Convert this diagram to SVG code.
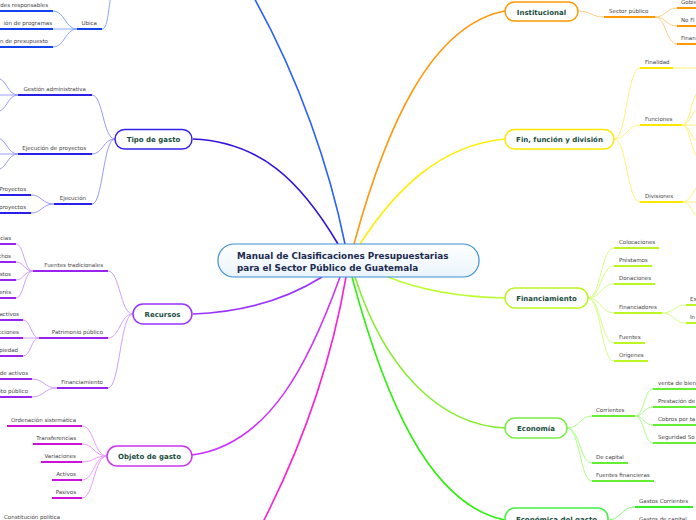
<svg xmlns="http://www.w3.org/2000/svg" width="696" height="520" viewBox="0 0 696 520">
<defs>
<linearGradient id="cg" x1="0" y1="0" x2="0" y2="1"><stop offset="0" stop-color="#ffffff"/><stop offset="1" stop-color="#eaf4fd"/></linearGradient>
<style>
.s{font-family:"DejaVu Sans",Verdana,sans-serif;font-size:5.5px;fill:#444}
.e{text-anchor:end}
.m{font-family:"DejaVu Sans",Verdana,sans-serif;font-size:7px;font-weight:bold;fill:#1a4d3e;text-anchor:middle}
.c{font-family:"DejaVu Sans",Verdana,sans-serif;font-size:8.8px;font-weight:bold;fill:#1b2a4e}
.n{fill:#fff;stroke-width:1.5}
.mc{fill:none;stroke-width:1.6}
.sc{fill:none;stroke-width:1}
.u{stroke-width:2}
.bl .sc{stroke:#88a8ff}.bl .u{stroke:#1144ee}
.ind .sc{stroke:#9a9aff}.ind .u{stroke:#2a1fe8}
.pur .sc{stroke:#cda0ff}.pur .u{stroke:#9922ee}
.mag .sc{stroke:#ec9cff}.mag .u{stroke:#cc11dd}
.org .sc{stroke:#ffcf8a}.org .u{stroke:#ff9900}
.yel .sc{stroke:#fff27a}.yel .u{stroke:#ffe600}
.lim .sc{stroke:#d6ff8a}.lim .u{stroke:#bbf522}
.grn .sc{stroke:#aaff88}.grn .u{stroke:#66ee33}
.gr2 .sc{stroke:#88ff77}.gr2 .u{stroke:#33ee22}
</style>
</defs>
<rect width="696" height="520" fill="#fff"/>

<g id="connectors">
<path class="mc" stroke="#2a5fff" d="M345,244 C330,170 300,80 253,-4"/>
<path class="mc" stroke="#3311dd" d="M338,244 C300,180 260,142 193,139"/>
<path class="mc" stroke="#ff9911" d="M354,244 C385,130 430,25 505,11"/>
<path class="mc" stroke="#ffee11" d="M360,244 C395,190 440,145 505,139"/>
<path class="mc" stroke="#bbff33" d="M388,277 C420,290 460,297 505,298"/>
<path class="mc" stroke="#9933ff" d="M322,277 C290,297 250,312 193,314"/>
<path class="mc" stroke="#cc33ff" d="M340,277 C310,360 270,445 192,455"/>
<path class="mc" stroke="#ff22cc" d="M346,277 C330,370 300,450 262,524"/>
<path class="mc" stroke="#88ee33" d="M355,277 C385,370 440,425 505,428"/>
<path class="mc" stroke="#33ee11" d="M352,277 C385,400 430,505 505,520"/>

<g class="org">
<path class="sc" d="M578,11 C591,11 591,17 604,17"/>
<path class="sc" d="M655,17 C666,17 666,8 677,8 M655,17 C666,17 666,26 677,26 M655,17 C666,17 666,44 677,44"/>
</g>
<g class="yel">
<path class="sc" d="M614,139 C627,139 627,68 640,68 M614,139 C627,139 627,125 640,125 M614,139 C627,139 627,202 640,202"/>
<path class="sc" d="M673,68 L700,68"/>
<path class="sc" d="M682,125 C691,125 691,90 702,90 M682,125 C691,125 691,108 702,108 M682,125 L702,125 M682,125 C691,125 691,143 702,143 M682,125 C691,125 691,160 702,160"/>
<path class="sc" d="M683,202 C692,202 692,186 702,186 M683,202 L702,202 M683,202 C692,202 692,218 702,218"/>
</g>
<g class="lim">
<path class="sc" d="M588,298 C601,298 601,248 614,248 M588,298 C601,298 601,266 614,266 M588,298 C601,298 601,284 614,284 M588,298 C601,298 601,313 614,313 M588,298 C601,298 601,343 614,343 M588,298 C601,298 601,361 614,361"/>
<path class="sc" d="M662,313 C674,313 674,305 686,305 M662,313 C674,313 674,323 686,323"/>
</g>
<g class="grn">
<path class="sc" d="M567,428 C580,428 580,416 592,416 M567,428 C580,428 580,463 592,463 M567,428 C580,428 580,481 592,481"/>
<path class="sc" d="M635,416 C644,416 644,389 653,389 M635,416 C644,416 644,407 653,407 M635,416 C644,416 644,425 653,425 M635,416 C644,416 644,443 653,443"/>
</g>
<g class="gr2">
<path class="sc" d="M608,520 C621,520 621,507 635,507 M608,520 C621,520 621,525 635,525"/>
</g>
<g class="bl">
<path class="sc" d="M102,29 C108,29 108,10 111,-4"/>
<path class="sc" d="M77,29 C65,29 65,11 53,11 M77,29 L53,29 M77,29 C65,29 65,47 53,47"/>
</g>
<g class="ind">
<path class="sc" d="M115,139 C103,139 103,95 92,95 M115,139 C103,139 103,154 92,154 M115,139 C103,139 103,204 92,204"/>
<path class="sc" d="M18,95 C7,95 7,78 -4,78 M18,95 L-4,95 M18,95 C7,95 7,112 -4,112"/>
<path class="sc" d="M18,154 C7,154 7,138 -4,138 M18,154 L-4,154 M18,154 C7,154 7,170 -4,170"/>
<path class="sc" d="M54,204 C42,204 42,195 31,195 M54,204 C42,204 42,213 31,213"/>
</g>
<g class="pur">
<path class="sc" d="M133,314 C120,314 120,271 108,271 M133,314 C120,314 120,338 108,338 M133,314 C120,314 120,388 108,388"/>
<path class="sc" d="M33,271 C24,271 24,244 16,244 M33,271 C24,271 24,262 16,262 M33,271 C24,271 24,280 16,280 M33,271 C24,271 24,298 16,298"/>
<path class="sc" d="M39,338 C31,338 31,320 23,320 M39,338 L23,338 M39,338 C31,338 31,356 23,356"/>
<path class="sc" d="M57,388 C44,388 44,379 32,379 M57,388 C44,388 44,397 32,397"/>
</g>
<g class="mag">
<path class="sc" d="M107,456 C94,456 94,426 82,426 M107,456 C94,456 94,444 82,444 M107,456 C94,456 94,462 82,462 M107,456 C94,456 94,480 82,480 M107,456 C94,456 94,498 82,498"/>
</g>
</g>

<g id="center">
<rect x="218" y="244" width="261" height="33" rx="16" fill="url(#cg)" stroke="#3d8fd4" stroke-width="1.2"/>
<text class="c" x="237" y="259">Manual de Clasificaciones Presupuestarias</text>
<text class="c" x="237" y="270.5">para el Sector Público de Guatemala</text>
</g>

<g id="institucional" class="org">
<rect class="n" x="505" y="2" width="73" height="19" rx="9.5" stroke="#ff9900"/>
<text class="m" x="541.5" y="14.5">Institucional</text>
</g>
<g id="sector-publico" class="org"><line class="u" x1="604" y1="17" x2="655" y2="17"/><text class="s" x="609" y="13">Sector público</text></g>
<g id="gobierno" class="org"><line class="u" x1="677" y1="8" x2="700" y2="8"/><text class="s" x="681" y="4">Gobie</text></g>
<g id="no-financiero" class="org"><line class="u" x1="677" y1="26" x2="700" y2="26"/><text class="s" x="681" y="22">No Fi</text></g>
<g id="financiero" class="org"><line class="u" x1="677" y1="44" x2="700" y2="44"/><text class="s" x="681" y="40">Finan</text></g>

<g id="fin" class="yel">
<rect class="n" x="505" y="129.5" width="109" height="19.5" rx="9.7" stroke="#ffe600"/>
<text class="m" x="559.5" y="141.8">Fin, función y división</text>
</g>
<g id="finalidad" class="yel"><line class="u" x1="640" y1="68" x2="673" y2="68"/><text class="s" x="645" y="64">Finalidad</text></g>
<g id="funciones" class="yel"><line class="u" x1="640" y1="125" x2="682" y2="125"/><text class="s" x="645" y="121">Funciones</text></g>
<g id="divisiones" class="yel"><line class="u" x1="640" y1="202" x2="683" y2="202"/><text class="s" x="645" y="198">Divisiones</text></g>

<g id="financiamiento" class="lim">
<rect class="n" x="505" y="288" width="83" height="20" rx="10" stroke="#bbf522"/>
<text class="m" x="546.5" y="300.5">Financiamiento</text>
</g>
<g id="colocaciones" class="lim"><line class="u" x1="614" y1="248" x2="659" y2="248"/><text class="s" x="619" y="244">Colocaciones</text></g>
<g id="prestamos" class="lim"><line class="u" x1="614" y1="266" x2="652" y2="266"/><text class="s" x="619" y="262">Préstamos</text></g>
<g id="donaciones" class="lim"><line class="u" x1="614" y1="284" x2="655" y2="284"/><text class="s" x="619" y="280">Donaciones</text></g>
<g id="financiadores" class="lim"><line class="u" x1="614" y1="313" x2="662" y2="313"/><text class="s" x="619" y="309">Financiadores</text></g>
<g id="ex" class="lim"><line class="u" x1="686" y1="305" x2="700" y2="305"/><text class="s" x="690" y="301">Ex</text></g>
<g id="in" class="lim"><line class="u" x1="686" y1="323" x2="700" y2="323"/><text class="s" x="690" y="319">In</text></g>
<g id="fuentes" class="lim"><line class="u" x1="614" y1="343" x2="645" y2="343"/><text class="s" x="619" y="339">Fuentes</text></g>
<g id="origenes" class="lim"><line class="u" x1="614" y1="361" x2="648" y2="361"/><text class="s" x="619" y="357">Orígenes</text></g>

<g id="economia" class="grn">
<rect class="n" x="505" y="418" width="62" height="20" rx="10" stroke="#77ee44"/>
<text class="m" x="536" y="430.5">Economía</text>
</g>
<g id="corrientes" class="grn"><line class="u" x1="592" y1="416" x2="635" y2="416"/><text class="s" x="596" y="412">Corrientes</text></g>
<g id="venta" class="grn"><line class="u" x1="653" y1="389" x2="700" y2="389"/><text class="s" x="658" y="385">venta de bien</text></g>
<g id="prestacion" class="grn"><line class="u" x1="653" y1="407" x2="700" y2="407"/><text class="s" x="658" y="403">Prestación de</text></g>
<g id="cobros" class="grn"><line class="u" x1="653" y1="425" x2="700" y2="425"/><text class="s" x="658" y="421">Cobros por ta</text></g>
<g id="seguridad" class="grn"><line class="u" x1="653" y1="443" x2="700" y2="443"/><text class="s" x="658" y="439">Seguridad So</text></g>
<g id="de-capital" class="grn"><line class="u" x1="592" y1="463" x2="628" y2="463"/><text class="s" x="596" y="459">De capital</text></g>
<g id="fuentes-financieras" class="grn"><line class="u" x1="592" y1="481" x2="654" y2="481"/><text class="s" x="596" y="477">Fuentes financieras</text></g>

<g id="economica-gasto" class="gr2">
<rect class="n" x="505" y="508" width="103" height="20" rx="10" stroke="#44ee44"/>
<text class="m" x="556.5" y="521.5">Económica del gasto</text>
</g>
<g id="gastos-corrientes" class="gr2"><line class="u" x1="635" y1="507" x2="693" y2="507"/><text class="s" x="639" y="503">Gastos Corrientes</text></g>
<g id="gastos-capital" class="gr2"><line class="u" x1="635" y1="525" x2="690" y2="525"/><text class="s" x="639" y="521">Gastos de capital</text></g>

<g id="ubica" class="bl"><line class="u" x1="77" y1="29" x2="102" y2="29"/><text class="s e" x="97" y="25">Ubica</text></g>
<g id="responsables" class="bl"><line class="u" x1="-2" y1="11" x2="53" y2="11"/><text class="s e" x="48" y="7">des responsables</text></g>
<g id="programas" class="bl"><line class="u" x1="-2" y1="29" x2="53" y2="29"/><text class="s e" x="52" y="25">ión de programas</text></g>
<g id="presupuesto" class="bl"><line class="u" x1="-2" y1="47" x2="53" y2="47"/><text class="s e" x="48" y="43">n de presupuesto</text></g>

<g id="tipo-gasto" class="ind">
<rect class="n" x="115" y="129.5" width="77" height="19.5" rx="9.7" stroke="#3322ee"/>
<text class="m" x="153.5" y="141.8">Tipo de gasto</text>
</g>
<g id="gestion" class="ind"><line class="u" x1="18" y1="95" x2="92" y2="95"/><text class="s e" x="86" y="91">Gestión administrativa</text></g>
<g id="ejec-proyectos" class="ind"><line class="u" x1="18" y1="154" x2="92" y2="154"/><text class="s e" x="86" y="150">Ejecución de proyectos</text></g>
<g id="ejecucion" class="ind"><line class="u" x1="54" y1="204" x2="92" y2="204"/><text class="s e" x="86" y="200">Ejecución</text></g>
<g id="proyectos1" class="ind"><line class="u" x1="-2" y1="195" x2="31" y2="195"/><text class="s e" x="26" y="191">Proyectos</text></g>
<g id="proyectos2" class="ind"><line class="u" x1="-2" y1="213" x2="31" y2="213"/><text class="s e" x="26" y="209">proyectos</text></g>

<g id="recursos" class="pur">
<rect class="n" x="133" y="304" width="59" height="20" rx="10" stroke="#9933ff"/>
<text class="m" x="162.5" y="316.5">Recursos</text>
</g>
<g id="fuentes-trad" class="pur"><line class="u" x1="33" y1="271" x2="108" y2="271"/><text class="s e" x="103" y="267">Fuentes tradicionales</text></g>
<g id="r1" class="pur"><line class="u" x1="-2" y1="244" x2="16" y2="244"/><text class="s e" x="11" y="240">cias</text></g>
<g id="r2" class="pur"><line class="u" x1="-2" y1="262" x2="16" y2="262"/><text class="s e" x="11" y="258">chos</text></g>
<g id="r3" class="pur"><line class="u" x1="-2" y1="280" x2="16" y2="280"/><text class="s e" x="11" y="276">stos</text></g>
<g id="r4" class="pur"><line class="u" x1="-2" y1="298" x2="16" y2="298"/><text class="s e" x="11" y="294">erés</text></g>
<g id="patrimonio" class="pur"><line class="u" x1="39" y1="338" x2="108" y2="338"/><text class="s e" x="103" y="334">Patrimonio público</text></g>
<g id="p1" class="pur"><line class="u" x1="-2" y1="320" x2="23" y2="320"/><text class="s e" x="19" y="316">activos</text></g>
<g id="p2" class="pur"><line class="u" x1="-2" y1="338" x2="23" y2="338"/><text class="s e" x="19" y="334">cciones</text></g>
<g id="p3" class="pur"><line class="u" x1="-2" y1="356" x2="23" y2="356"/><text class="s e" x="18" y="352">piedad</text></g>
<g id="financiamiento-r" class="pur"><line class="u" x1="57" y1="388" x2="108" y2="388"/><text class="s e" x="103" y="384">Financiamiento</text></g>
<g id="f1" class="pur"><line class="u" x1="-2" y1="379" x2="32" y2="379"/><text class="s e" x="28" y="375">de activos</text></g>
<g id="f2" class="pur"><line class="u" x1="-2" y1="397" x2="32" y2="397"/><text class="s e" x="28" y="393">ito público</text></g>

<g id="objeto-gasto" class="mag">
<rect class="n" x="107" y="446" width="85" height="20" rx="10" stroke="#cc33ee"/>
<text class="m" x="149.5" y="458.5">Objeto de gasto</text>
</g>
<g id="ordenacion" class="mag"><line class="u" x1="7" y1="426" x2="82" y2="426"/><text class="s e" x="76" y="422">Ordenación sistemática</text></g>
<g id="transferencias" class="mag"><line class="u" x1="33" y1="444" x2="82" y2="444"/><text class="s e" x="76" y="440">Transferencias</text></g>
<g id="variaciones" class="mag"><line class="u" x1="41" y1="462" x2="82" y2="462"/><text class="s e" x="76" y="458">Variaciones</text></g>
<g id="activos" class="mag"><line class="u" x1="52" y1="480" x2="82" y2="480"/><text class="s e" x="76" y="476">Activos</text></g>
<g id="pasivos" class="mag"><line class="u" x1="52" y1="498" x2="82" y2="498"/><text class="s e" x="76" y="494">Pasivos</text></g>

<g id="constitucion"><text class="s" x="4" y="519">Constitución política</text></g>
</svg>
